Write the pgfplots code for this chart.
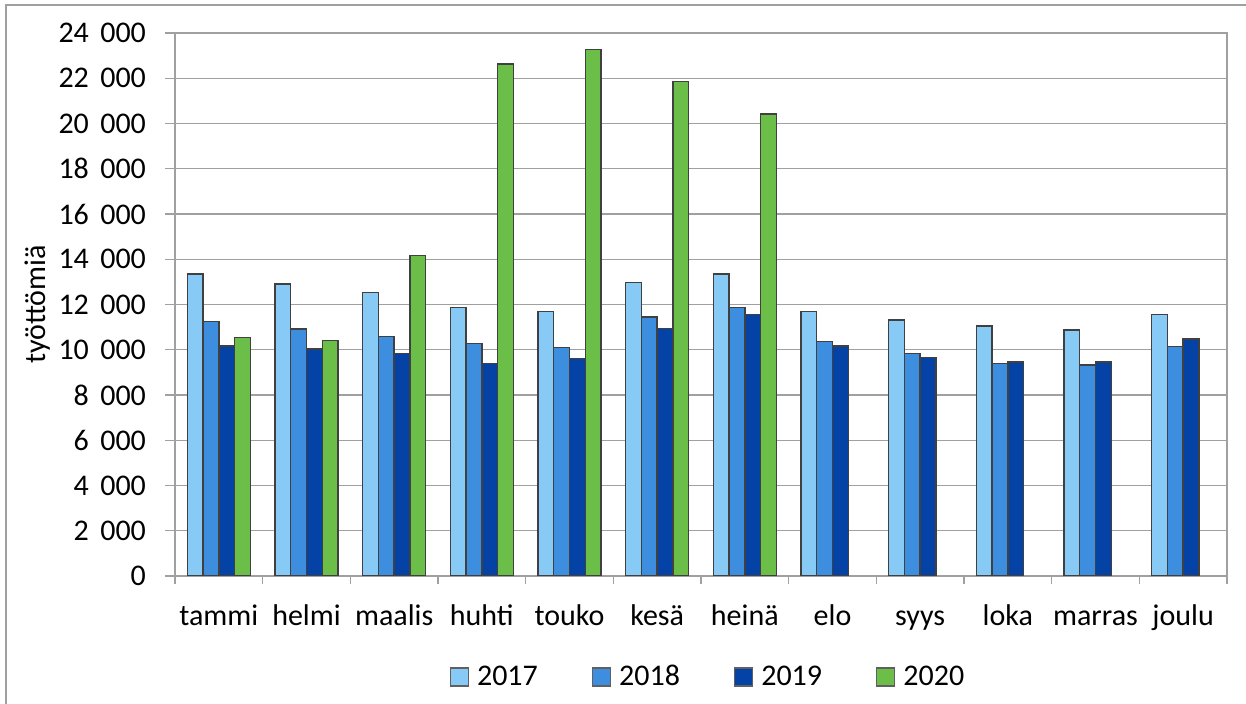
\documentclass[border=0pt]{standalone}
\usepackage{fontspec}
\setmainfont{Carlito}
\usepackage{pgfplots}
\pgfplotsset{compat=1.18}
\definecolor{c17}{RGB}{135,202,245}
\definecolor{c18}{RGB}{61,142,222}
\definecolor{c19}{RGB}{4,67,165}
\definecolor{c20}{RGB}{107,190,72}
\definecolor{gridc}{RGB}{160,160,160}
\definecolor{edgec}{RGB}{64,64,64}
\newcommand{\ts}{\kern0.38em}
\begin{document}
\begin{tikzpicture}[font=\fontsize{15pt}{18pt}\selectfont]
\useasboundingbox (0,0) rectangle (623pt,352pt);
\draw[gridc, line width=0.7pt] (3pt,0) -- (3pt,349.5pt) -- (623pt,349.5pt);
\begin{axis}[
  at={(87.5pt,64pt)}, anchor=south west,
  scale only axis, width=526pt, height=271.5pt,
  ybar=0pt, bar width=0.18,
  xmin=-0.5, xmax=11.5, ymin=0, ymax=24000,
  scaled y ticks=false,
  xtick={0,...,11},
  xticklabels={tammi,helmi,maalis,huhti,touko,kesä,heinä,elo,syys,loka,marras,joulu},
  minor xtick={-0.5,0.5,...,11.5},
  major x tick style={draw=none},
  minor x tick style={gridc, line width=0.6pt},
  minor tick length=4pt,
  ytick={0,2000,...,24000},
  yticklabels={0,2\ts000,4\ts000,6\ts000,8\ts000,10\ts000,12\ts000,14\ts000,16\ts000,18\ts000,20\ts000,22\ts000,24\ts000},
  ytick pos=left, xtick pos=bottom,
  tick align=outside,
  major tick length=5pt,
  y tick style={gridc, line width=0.6pt},
  ymajorgrids, grid style={gridc, line width=0.6pt},
  axis line style={gridc, line width=0.6pt},
  xticklabel style={yshift=-5pt, text height=11pt, text depth=3pt},
  yticklabel style={xshift=-6pt},
  ylabel={työttömiä},
  ylabel style={at={(axis description cs:-0.1302,0.5)}, anchor=center},
  legend columns=4,
  legend style={draw=none, fill=none, at={(0.5076,-0.186)}, anchor=center,
    /tikz/every even column/.append style={column sep=25pt},
    legend cell align=left},
  legend image code/.code={\draw[#1, draw=gridc!60!black, line width=0.6pt] (0pt,-4.5pt) rectangle (9pt,4.5pt); \path (11pt,0pt);},
  every axis plot/.append style={draw=edgec, line width=0.7pt},
]
\addplot[fill=c17] coordinates {(0,13347) (1,12906) (2,12524) (3,11876) (4,11700) (5,12966) (6,13347) (7,11700) (8,11316) (9,11051) (10,10875) (11,11554)};
\addplot[fill=c18] coordinates {(0,11258) (1,10920) (2,10596) (3,10273) (4,10096) (5,11449) (6,11876) (7,10361) (8,9845) (9,9404) (10,9330) (11,10155)};
\addplot[fill=c19] coordinates {(0,10168) (1,10036) (2,9845) (3,9404) (4,9610) (5,10934) (6,11567) (7,10168) (8,9669) (9,9462) (10,9462) (11,10478)};
\addplot[fill=c20] coordinates {(0,10538) (1,10419) (2,14172) (3,22635) (4,23267) (5,21868) (6,20411)};
\legend{2017,2018,2019,2020}
\end{axis}
\end{tikzpicture}
\end{document}
